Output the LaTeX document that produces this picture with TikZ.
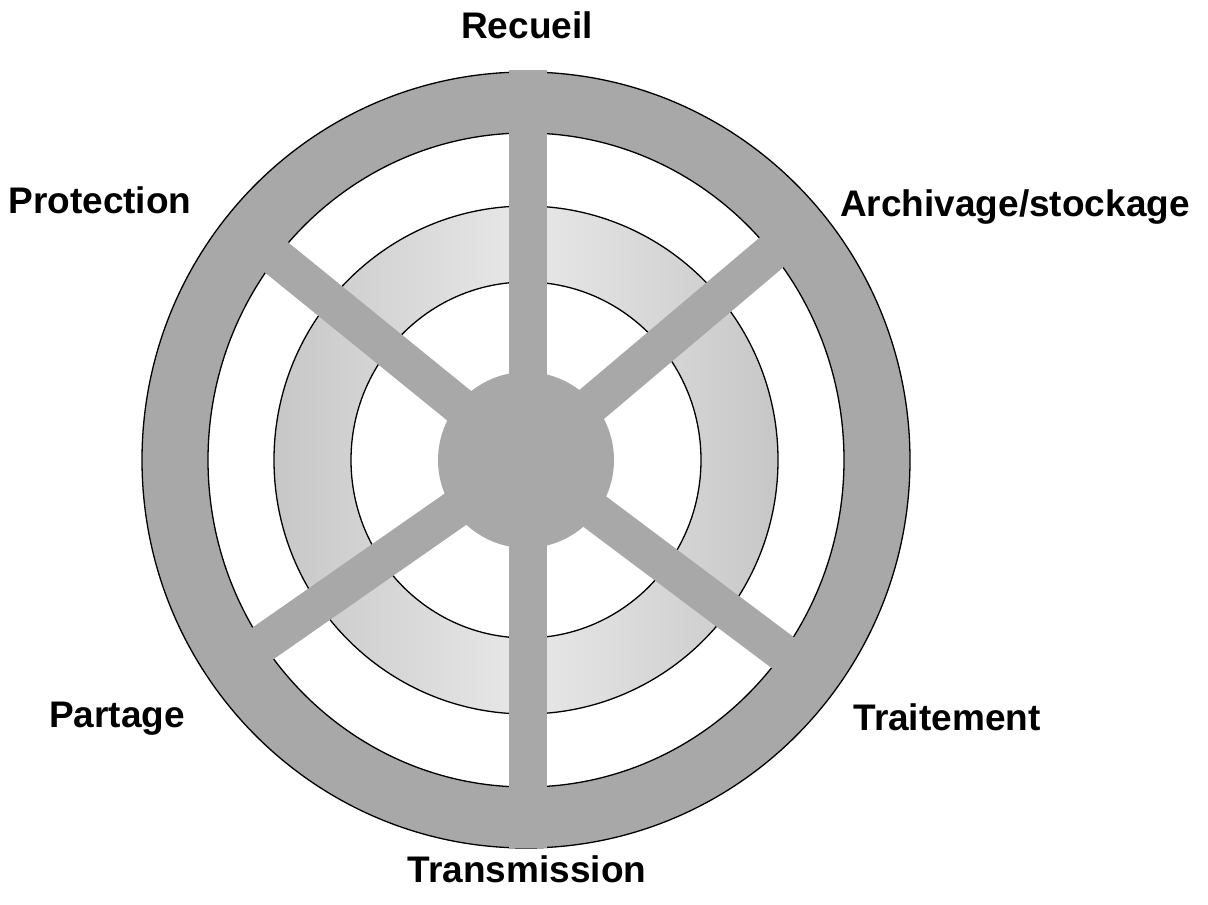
\documentclass[tikz,border=0pt]{standalone}
\usepackage{fontspec}
\setmainfont{Liberation Sans}
\begin{document}
\begin{tikzpicture}[x=1pt,y=-1pt,
  ringcol/.style={fill=black!34},
  spokeline/.style={draw=black!34, line width=38pt},
  edgeline/.style={draw=black, line width=1.3pt},
  lbl/.style={font=\fontsize{37}{42}\selectfont\bfseries, text=black, inner sep=0pt, anchor=base}]
\fill[white] (0,0) rectangle (1208,905);
\useasboundingbox (0,0) rectangle (1208,905);
\coordinate (C) at (526,460);
% outer ring
\fill[ringcol, even odd rule] (C) ellipse [x radius=384pt, y radius=388pt] (C) ellipse [x radius=318pt, y radius=327pt];
\draw[edgeline] (C) ellipse [x radius=384pt, y radius=388pt];
\draw[edgeline] (C) ellipse [x radius=318pt, y radius=327pt];
% middle ring
\shade[left color=black!22, right color=black!22, middle color=black!9, even odd rule] (C) ellipse [x radius=252pt, y radius=254pt] (C) ellipse [x radius=175pt, y radius=178pt];
\draw[edgeline] (C) ellipse [x radius=252pt, y radius=254pt];
\draw[edgeline] (C) ellipse [x radius=175pt, y radius=178pt];
% spokes
\coordinate (ST) at (528,70);
\coordinate (SB) at (528,848);
\coordinate (UR) at (795,232.6);
\coordinate (UL) at (252.7,238.1);
\coordinate (LL) at (237.3,661.3);
\coordinate (LR) at (807.6,671.2);
\draw[spokeline] (ST) -- (SB);
\draw[spokeline] (C) -- (UR);
\draw[spokeline] (C) -- (UL);
\draw[spokeline] (C) -- (LL);
\draw[spokeline] (C) -- (LR);
% hub
\fill[ringcol] (C) circle (88pt);
% labels
\node[lbl] (recueil) at (527,38) {Recueil};
\node[lbl] (protection) at (100,213) {Protection};
\node[lbl] (archivage) at (1015,216) {Archivage/stockage};
\node[lbl] (partage) at (117,727) {Partage};
\node[lbl] (traitement) at (947,730) {Traitement};
\node[lbl] (transmission) at (527,882) {Transmission};
\end{tikzpicture}
\end{document}
